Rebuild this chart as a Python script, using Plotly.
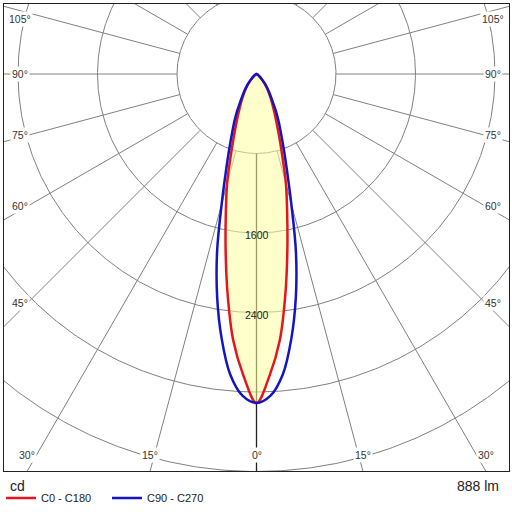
import numpy as np
import plotly.graph_objects as go

# ---------------- data ----------------
gamma_deg = [0, 2.5, 5, 7.5, 10, 12.5, 15, 17.5, 20, 22.5, 25, 27.5, 30,
             35, 40, 45, 50, 60, 70, 80, 90]
c0_c180 = [3310, 3035, 2690, 2230, 1790, 1425, 1145, 862, 665, 525, 425, 350, 290,
           200, 130, 75, 40, 12, 4, 0, 0]
c90_c270 = [3310, 3240, 3035, 2686, 2280, 1833, 1353, 1022, 801, 642, 526, 426, 332,
            220, 140, 80, 45, 15, 5, 0, 0]
series_names = ["C0 - C180", "C90 - C270"]
ring_values = [800, 1600, 2400, 3200, 4000, 4800]
ring_label_values = [1600, 2400]
spoke_angles = [a for a in range(-165, 181, 15) if a != 0]
side_label_angles = [45, 60, 75, 90, 105]
bottom_label_angles = [-30, -15, 0, 15, 30]
unit_text = "cd"
flux_text = "888 lm"

# ---------------- geometry ----------------
W = H = 512
FL, FR, FT, FB = 4, 509, 4, 471          # frame in pixels
CX, CY = 256.5, 74                       # pole in pixels
S = 79.5 / 800                           # pixels per cd
FONT = "Liberation Sans, Arial, sans-serif"

xr = [(FL - CX) / S, (FR - CX) / S]
yr = [-(FB - CY) / S, (CY - FT) / S]


def polar_xy(r, deg):
    t = np.radians(deg)
    return r * np.sin(t), -r * np.cos(t)


fig = go.Figure()

# rings
rx, ry = [], []
phi = np.linspace(0, 360, 721)
for rv in ring_values:
    x, y = polar_xy(rv, phi)
    rx += list(x) + [None]
    ry += list(y) + [None]
fig.add_trace(go.Scatter(x=rx, y=ry, mode="lines", line=dict(color="#808080", width=1),
                         hoverinfo="skip", showlegend=False))

# spokes (start at the first ring)
sx, sy = [], []
for a in spoke_angles:
    x0, y0 = polar_xy(ring_values[0], a)
    x1, y1 = polar_xy(8000, a)
    sx += [x0, x1, None]
    sy += [y0, y1, None]
fig.add_trace(go.Scatter(x=sx, y=sy, mode="lines", line=dict(color="#808080", width=1),
                         hoverinfo="skip", showlegend=False))
x0, y0 = polar_xy(ring_values[0], 0)
x1, y1 = polar_xy(8000, 0)
fig.add_trace(go.Scatter(x=[x0, x1], y=[y0, y1], mode="lines",
                         line=dict(color="#222222", width=1.3),
                         hoverinfo="skip", showlegend=False))

# curves
full_ang = [-a for a in gamma_deg[::-1]] + gamma_deg[1:]


def full_vals(v):
    return v[::-1] + v[1:]


rxc, ryc = polar_xy(np.array(full_vals(c0_c180), float), np.array(full_ang, float))
bxc, byc = polar_xy(np.array(full_vals(c90_c270), float), np.array(full_ang, float))

fig.add_trace(go.Scatter(x=rxc, y=ryc, mode="lines", fill="toself",
                         fillcolor="rgba(255,255,160,0.55)", line=dict(width=0, shape="spline"),
                         hoverinfo="skip", showlegend=False))
fig.add_trace(go.Scatter(x=rxc, y=ryc, mode="lines", name=series_names[0],
                         line=dict(color="#e4161c", width=2.5, shape="spline")))
fig.add_trace(go.Scatter(x=bxc, y=byc, mode="lines", name=series_names[1],
                         line=dict(color="#1414c0", width=2.5, shape="spline")))

annotations = []
# ring labels
for rv in ring_label_values:
    x, y = polar_xy(rv, 0)
    annotations.append(dict(x=x, y=y, text=str(rv), showarrow=False, yshift=-2,
                            font=dict(size=10.5, color="#222", family=FONT)))

# side angle labels
lab_x = (CX - FL - 16) / S
hit_x = (CX - FL - 24) / S
ymax = (CY - FT - 15) / S
for a in side_label_angles:
    t = np.radians(a)
    y = -hit_x * np.cos(t) / np.sin(t)
    y = min(y, ymax)
    for sgn in (-1, 1):
        annotations.append(dict(x=sgn * lab_x, y=y, text=f"{a}°", showarrow=False,
                                bgcolor="white", borderpad=1,
                                font=dict(size=10.5, color="#333", family=FONT)))
# bottom angle labels
lab_y = -(FB - CY - 16) / S
hit_y = (FB - CY) / S
for a in bottom_label_angles:
    x = hit_y * np.tan(np.radians(a))
    annotations.append(dict(x=x, y=lab_y, text=f"{abs(a)}°", showarrow=False,
                            bgcolor="white", borderpad=1,
                            font=dict(size=10.5, color="#333", family=FONT)))

# unit and flux texts
annotations.append(dict(xref="paper", yref="paper", x=(8 - FL) / (FR - FL),
                        y=(FB - 486) / (FB - FT), xanchor="left", yanchor="middle",
                        text=unit_text, showarrow=False,
                        font=dict(size=14, color="#222", family=FONT)))
annotations.append(dict(xref="paper", yref="paper", x=(501 - FL) / (FR - FL),
                        y=(FB - 486) / (FB - FT), xanchor="right", yanchor="middle",
                        text=flux_text, showarrow=False,
                        font=dict(size=14, color="#222", family=FONT)))

axis_common = dict(showgrid=False, zeroline=False, showticklabels=False, ticks="",
                   showline=True, mirror=True, linecolor="#222", linewidth=1.3,
                   fixedrange=True)

fig.update_layout(
    width=W, height=H,
    margin=dict(l=FL, r=W - FR, t=FT, b=H - FB, pad=0, autoexpand=False),
    paper_bgcolor="white", plot_bgcolor="white",
    xaxis=dict(range=xr, **axis_common),
    yaxis=dict(range=yr, **axis_common),
    annotations=annotations,
    showlegend=True,
    legend=dict(orientation="h", x=-3 / (FR - FL), xanchor="left",
                y=(FB - 498) / (FB - FT), yanchor="middle",
                font=dict(size=11, color="#222", family=FONT),
                entrywidth=61, entrywidthmode="pixels",
                bgcolor="rgba(0,0,0,0)", borderwidth=0, itemclick=False),
    font=dict(family=FONT),
)

fig.write_html("out.html", config={"displayModeBar": False},
               post_script="document.body.style.margin='0';document.body.style.overflow='hidden';")
